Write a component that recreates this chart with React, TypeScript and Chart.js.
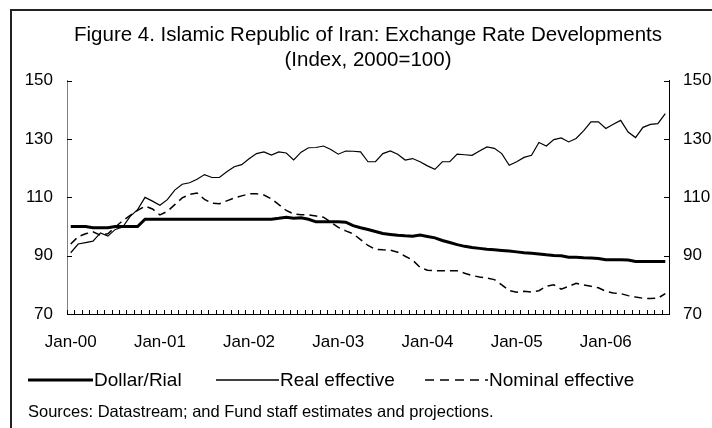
import React, { useEffect, useRef } from 'react';
import { Chart, registerables } from 'chart.js';

Chart.register(...registerables);

const FONT = "'Liberation Sans', Arial, Helvetica, sans-serif";

const MONTHS = ['Jan', 'Feb', 'Mar', 'Apr', 'May', 'Jun', 'Jul', 'Aug', 'Sep', 'Oct', 'Nov', 'Dec'];
const YEARS = ['00', '01', '02', '03', '04', '05', '06'];
const MONTH_COUNT = 81; // Jan-00 .. Sep-06

const categories: string[] = [];
for (const y of YEARS) for (const m of MONTHS) categories.push(`${m}-${y}`);
categories.length = MONTH_COUNT;

const tickLabels = ['Jan-00', 'Jan-01', 'Jan-02', 'Jan-03', 'Jan-04', 'Jan-05', 'Jan-06'];
const yTicks = [70, 90, 110, 130, 150];

const titleLines = ['Figure 4. Islamic Republic of Iran: Exchange Rate Developments', '(Index, 2000=100)'];
const seriesNames = ['Dollar/Rial', 'Real effective', 'Nominal effective'];
const sourceNote = 'Sources: Datastream; and Fund staff estimates and projections.';

const dollarRial = [
  100, 100, 100, 99.6, 99.6, 99.6, 100, 100, 100, 100,
  102.5, 102.5, 102.5, 102.5, 102.5, 102.5, 102.5, 102.5, 102.5, 102.5,
  102.5, 102.5, 102.5, 102.5, 102.5, 102.5, 102.5, 102.5, 102.8, 103.2,
  102.8, 103, 102.5, 101.6, 101.6, 101.6, 101.6, 101.5, 100.3, 99.6,
  99, 98.3, 97.6, 97.3, 97, 96.8, 96.7, 97.1, 96.6, 96.1,
  95.2, 94.5, 93.8, 93.2, 92.8, 92.5, 92.2, 92, 91.8, 91.6,
  91.3, 91, 90.8, 90.6, 90.3, 90.1, 90, 89.5, 89.5, 89.3,
  89.2, 89, 88.6, 88.6, 88.6, 88.5, 88, 88, 88, 88,
  88,
];

const realEffective = [
  91, 94, 94.5, 95, 97.8, 96.7, 99, 99.8, 103.5, 105.8,
  110, 108.7, 107.3, 109.2, 112.5, 114.5, 115, 116.2, 117.8, 116.8,
  116.8, 118.8, 120.5, 121.2, 123.2, 125, 125.6, 124.5, 125.6, 125.2,
  122.8, 125.5, 127, 127.1, 127.6, 126.4, 124.8, 125.9, 125.8, 125.6,
  122.2, 122.2, 125, 125.9, 124.8, 122.8, 123.3, 122.2, 120.8, 119.6,
  122.2, 122.2, 124.8, 124.6, 124.4, 125.9, 127.3, 126.8, 125, 121,
  122.2, 123.7, 124.4, 128.8, 127.6, 129.8, 130.4, 129, 130.2, 132.8,
  135.9, 135.9, 133.6, 135.1, 136.4, 132.4, 130.5, 134, 135, 135.3,
  138.7,
];

const nominalEffective = [
  94, 96.5, 97.5, 98.2, 97, 97.5, 99.8, 102, 103.8, 105.5,
  107, 106, 104, 105.2, 107.5, 109.8, 111, 111.5, 109.3, 108,
  107.8, 108.8, 109.8, 110.5, 111.2, 111.2, 110.8, 109.5, 107.5, 105.5,
  104.3, 104, 104, 103.6, 103.2, 101.5, 99.7, 98.5, 97.5, 95.5,
  93.5, 92.2, 92, 91.9, 91.2, 89.8, 88.5, 86, 85, 84.8,
  84.8, 84.8, 84.8, 84, 83.2, 82.7, 82.3, 81.8, 80, 78,
  77.5, 77.8, 77.5, 78, 79.5, 80, 78.5, 79.5, 80.5, 80,
  79.5, 79, 77.8, 77.2, 77, 76.3, 75.8, 75.4, 75.3, 75.4,
  77,
];

const seriesValues = [dollarRial, realEffective, nominalEffective];

// styles (kept apart from the data)
const seriesStyles = [
  { width: 3, dash: [] as number[] },
  { width: 1.2, dash: [] as number[] },
  { width: 1.5, dash: [8, 5] },
];
const legendPos = [
  { left: 28, line: 65 },
  { left: 216, line: 63 },
  { left: 425, line: 63 },
];

const CANVAS_W = 736; // the chart frame continues past the right edge of the picture
const CANVAS_H = 428;

const inwardTicks = {
  id: 'inwardTicks',
  afterDraw(chart: any) {
    const { ctx, chartArea, scales } = chart;
    const xs = scales.x;
    const ys = scales.y;
    const n = xs.getLabels().length;
    const w = (chartArea.right - chartArea.left) / n;
    ctx.save();
    ctx.strokeStyle = '#000';
    ctx.lineWidth = 1;
    ctx.beginPath();
    for (let k = 0; k <= n; k++) {
      const px = Math.round(chartArea.left + k * w) + 0.5;
      ctx.moveTo(px, chartArea.bottom);
      ctx.lineTo(px, chartArea.bottom - 4);
    }
    ys.ticks.forEach((t: any) => {
      const py = Math.round(ys.getPixelForValue(t.value)) + 0.5;
      ctx.moveTo(chartArea.left, py);
      ctx.lineTo(chartArea.left + 5, py);
      ctx.moveTo(chartArea.right, py);
      ctx.lineTo(chartArea.right - 5, py);
    });
    ctx.stroke();
    ctx.restore();
  },
};

export default function App() {
  const ref = useRef<HTMLCanvasElement | null>(null);

  useEffect(() => {
    if (!ref.current) return;
    Chart.defaults.font.family = FONT;
    const chart = new Chart(ref.current, {
      type: 'line',
      data: {
        labels: categories,
        datasets: seriesNames.map((name, i) => ({
          label: name,
          data: seriesValues[i],
          borderColor: '#000',
          backgroundColor: '#000',
          borderWidth: seriesStyles[i].width,
          borderDash: seriesStyles[i].dash,
          pointRadius: 0,
          tension: 0,
          fill: false,
          yAxisID: 'y',
        })),
      },
      options: {
        responsive: false,
        animation: false,
        events: [],
        layout: { padding: { top: 0, left: 0, right: 0, bottom: 60 } },
        plugins: {
          legend: { display: false },
          tooltip: { enabled: false },
          title: {
            display: true,
            text: titleLines,
            color: '#000',
            font: { family: FONT, size: 20.5, weight: 'normal', lineHeight: 25 / 20.5 },
            padding: { top: 22.5, bottom: 8.2 },
          },
        },
        scales: {
          x: {
            type: 'category',
            offset: true,
            grid: { display: false, offset: true, drawTicks: false },
            border: { display: true, color: '#000', width: 1 },
            ticks: {
              autoSkip: false,
              maxRotation: 0,
              minRotation: 0,
              padding: 18,
              color: '#000',
              font: { family: FONT, size: 17 },
              callback: (_v: any, idx: number) =>
                tickLabels.includes(categories[idx]) ? categories[idx] : '',
            },
            afterFit: (s: any) => {
              s.height = 54;
            },
          },
          y: {
            position: 'left',
            min: yTicks[0],
            max: yTicks[yTicks.length - 1],
            grid: { display: false, drawTicks: false },
            border: { display: true, color: '#808080', width: 1 },
            ticks: { stepSize: 20, padding: 14, color: '#000', font: { family: FONT, size: 17 } },
            afterFit: (s: any) => {
              s.width = 67;
            },
          },
          y2: {
            position: 'right',
            min: yTicks[0],
            max: yTicks[yTicks.length - 1],
            grid: { display: false, drawTicks: false },
            border: { display: true, color: '#000', width: 1 },
            ticks: { stepSize: 20, padding: 14, color: '#000', font: { family: FONT, size: 17 } },
            afterFit: (s: any) => {
              s.width = 67;
            },
          },
        },
      },
      plugins: [inwardTicks],
    });
    return () => chart.destroy();
  }, []);

  return (
    <div
      style={{
        position: 'fixed',
        left: 0,
        top: 0,
        width: 712,
        height: 428,
        overflow: 'hidden',
        background: '#fff',
        fontFamily: FONT,
        color: '#000',
      }}
    >
      <div
        style={{
          position: 'absolute',
          left: 10,
          top: 9,
          width: 760,
          height: 480,
          borderLeft: '2px solid #222',
          borderTop: '2px solid #222',
        }}
      />
      <canvas
        ref={ref}
        width={CANVAS_W}
        height={CANVAS_H}
        style={{ position: 'absolute', left: 0, top: 0 }}
      />
      {seriesNames.map((name, i) => (
        <div
          key={name}
          style={{
            position: 'absolute',
            left: legendPos[i].left,
            top: 368,
            height: 24,
            display: 'flex',
            alignItems: 'center',
            whiteSpace: 'nowrap',
            fontSize: 19,
          }}
        >
          <svg width={legendPos[i].line} height={6} style={{ display: 'block', marginRight: 1 }}>
            <line
              x1={0}
              y1={3}
              x2={legendPos[i].line}
              y2={3}
              stroke="#000"
              strokeWidth={seriesStyles[i].width === 3 ? 3 : 1.3}
              strokeDasharray={seriesStyles[i].dash.length ? '9 6' : undefined}
            />
          </svg>
          <span>{name}</span>
        </div>
      ))}
      <div
        style={{
          position: 'absolute',
          left: 28,
          top: 401,
          height: 20,
          lineHeight: '20px',
          fontSize: 16.5,
          whiteSpace: 'nowrap',
        }}
      >
        {sourceNote}
      </div>
    </div>
  );
}
